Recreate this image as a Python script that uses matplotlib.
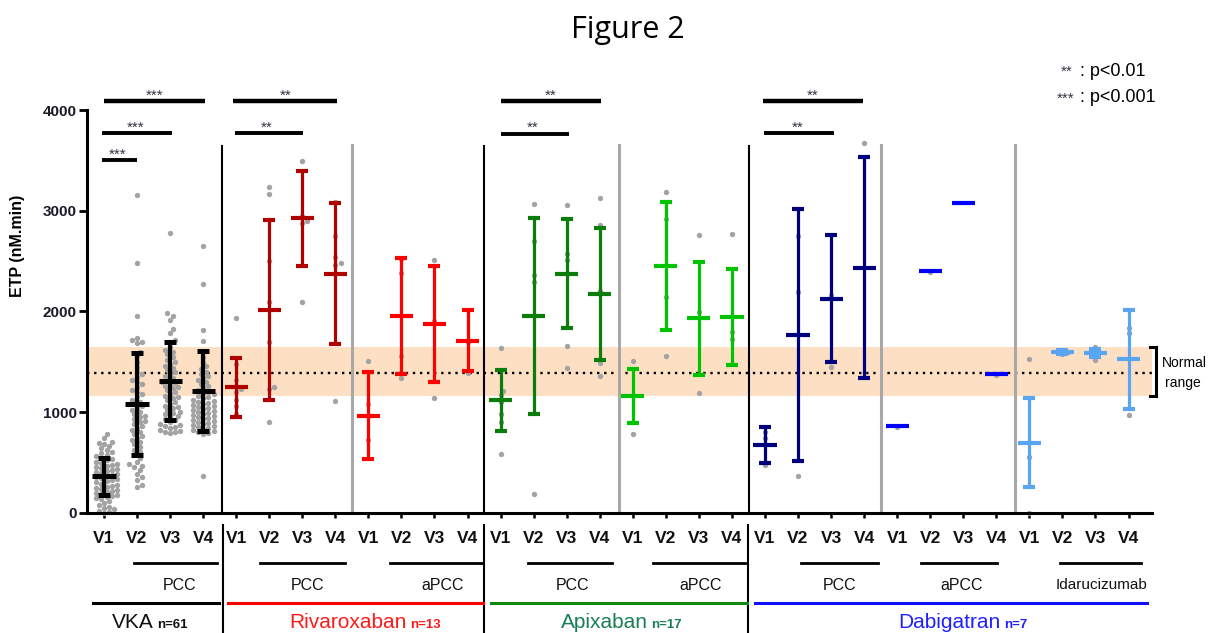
import numpy as np
import matplotlib
matplotlib.use('Agg')
import matplotlib.pyplot as plt
from matplotlib.lines import Line2D

# ---------------- data ----------------
visits = ['V1', 'V2', 'V3', 'V4']

vka_mean = [360, 1080, 1310, 1210]
vka_sd = [180, 510, 390, 395]
riva_pcc_mean = [1245, 2013, 2925, 2375]
riva_pcc_sd = [290, 895, 470, 700]
riva_apcc_mean = [965, 1950, 1875, 1710]
riva_apcc_sd = [430, 575, 575, 300]
apix_pcc_mean = [1115, 1955, 2375, 2175]
apix_pcc_sd = [305, 970, 545, 655]
apix_apcc_mean = [1160, 2450, 1930, 1945]
apix_apcc_sd = [270, 640, 560, 480]
dabi_pcc_mean = [675, 1765, 2125, 2435]
dabi_pcc_sd = [178, 1250, 630, 1095]
dabi_apcc_mean = [860, 2400, 3080, 1380]
dabi_apcc_sd = [0, 0, 0, 0]
ida_mean = [695, 1600, 1590, 1525]
ida_sd = [440, 20, 40, 490]

vka_pts = [
    [780, 740, 700, 690, 680, 660, 640, 620, 600, 590, 570, 560, 540, 530, 520, 500,
     490, 480, 470, 460, 450, 440, 430, 420, 410, 400, 390, 380, 370, 360, 350, 340,
     330, 320, 310, 300, 290, 280, 270, 260, 250, 240, 230, 220, 210, 200, 190, 180,
     170, 160, 150, 140, 120, 100, 80, 60, 50, 40, 20, 10, 0],
    [3160, 2480, 1950, 1740, 1720, 1700, 1690, 1600, 1560, 1500, 1450, 1400, 1380, 1350,
     1320, 1300, 1280, 1250, 1220, 1200, 1180, 1150, 1120, 1100, 1080, 1060, 1040, 1020,
     1000, 980, 960, 950, 930, 910, 900, 880, 860, 840, 820, 800, 780, 760, 740, 720,
     700, 680, 650, 620, 600, 570, 540, 500, 480, 460, 450, 420, 380, 350, 320, 280, 260],
    [2780, 1980, 1950, 1910, 1820, 1780, 1720, 1700, 1650, 1620, 1600, 1580, 1550, 1520,
     1500, 1480, 1460, 1440, 1420, 1400, 1380, 1360, 1340, 1320, 1300, 1290, 1280, 1260,
     1250, 1240, 1220, 1200, 1180, 1160, 1150, 1140, 1120, 1100, 1080, 1060, 1050, 1040,
     1020, 1000, 990, 980, 960, 950, 930, 920, 900, 880, 870, 860, 850, 840, 820, 810,
     800, 800, 790],
    [2650, 2270, 1810, 1710, 1600, 1550, 1500, 1460, 1430, 1400, 1380, 1360, 1340, 1320,
     1300, 1280, 1260, 1240, 1220, 1200, 1190, 1180, 1160, 1150, 1140, 1120, 1110, 1100,
     1090, 1080, 1070, 1060, 1050, 1040, 1030, 1020, 1010, 1000, 990, 980, 970, 960, 950,
     940, 930, 920, 910, 900, 890, 880, 870, 860, 850, 840, 830, 820, 810, 800, 790, 780, 360],
]
riva_pcc_pts = [[1930, 1480, 1320, 1260, 1230, 1200, 1120, 1060, 980],
                [3240, 3170, 2500, 2090, 1700, 1250, 1230, 900],
                [3490, 2950, 2900, 2880, 2090],
                [3090, 2750, 2540, 2480, 2460, 1110]]
riva_apcc_pts = [[1510, 1080, 960, 720],
                 [2520, 2380, 1560, 1340],
                 [2510, 1900, 1140],
                 [1700, 1390]]
apix_pcc_pts = [[1640, 1210, 1170, 1100, 980, 900, 580],
                [3070, 2700, 2360, 2290, 1950, 190],
                [3060, 2570, 2510, 1660, 1440],
                [3130, 2860, 2200, 1490, 1360]]
apix_apcc_pts = [[1510, 780],
                 [3190, 2920, 2140, 1560],
                 [2760, 1990, 1190],
                 [2770, 1790, 1730]]
dabi_pcc_pts = [[800, 745, 470],
                [2750, 2195, 360],
                [2160, 1450],
                [3670]]
dabi_apcc_pts = [[850], [2390], [], [1370]]
ida_pts = [[1530, 550, 0],
           [1600, 1580],
           [1650, 1580, 1520],
           [1830, 1780, 970]]

block_means = [vka_mean, riva_pcc_mean, riva_apcc_mean, apix_pcc_mean,
               apix_apcc_mean, dabi_pcc_mean, dabi_apcc_mean, ida_mean]
block_sds = [vka_sd, riva_pcc_sd, riva_apcc_sd, apix_pcc_sd,
             apix_apcc_sd, dabi_pcc_sd, dabi_apcc_sd, ida_sd]
block_pts = [vka_pts, riva_pcc_pts, riva_apcc_pts, apix_pcc_pts,
             apix_apcc_pts, dabi_pcc_pts, dabi_apcc_pts, ida_pts]
block_colors = ['#000000', '#b00000', '#ff0000', '#0a7d0a',
                '#00c400', '#00007e', '#0000ff', '#5aa5f2']

normal_low, normal_high, normal_mean = 1155, 1645, 1390

# significance: (x_from, x_to, y, label)
sig_bars = [(-0.05, 1.0, 3500, '***'), (-0.05, 2.05, 3770, '***'), (0.0, 3.06, 4090, '***'),
            (3.96, 6.01, 3770, '**'), (3.91, 7.06, 4090, '**'),
            (12.0, 14.06, 3765, '**'), (12.0, 15.03, 4090, '**'),
            (19.98, 22.1, 3770, '**'), (19.93, 22.97, 4090, '**')]

treatments = ['PCC', 'PCC', 'aPCC', 'PCC', 'aPCC', 'PCC', 'aPCC', 'Idarucizumab']
groups = ['VKA', 'Rivaroxaban', 'Apixaban', 'Dabigatran']
group_n = ['n=61', 'n=13', 'n=17', 'n=7']
group_colors = ['#111111', '#ff1a1a', '#1a7f55', '#2020ff']
group_line_colors = ['#000000', '#ff0000', '#118811', '#1010ff']

# ---------------- figure ----------------
W, H = 1223, 633
SANS = ['Liberation Sans', 'DejaVu Sans']
fig = plt.figure(figsize=(W / 100, H / 100), dpi=100)
ax = fig.add_axes([87 / W, (H - 512.7) / H, (1152 - 87) / W, 402.7 / H])
ax.set_xlim(-0.514, 31.71)
ax.set_ylim(0, 4000)

def fxy(px, py):
    return px / W, 1 - py / H

# normal band
ax.axhspan(normal_low, normal_high, color='#fde0c4', zorder=0, lw=0)
ax.axhline(normal_mean, color='black', lw=1.7, linestyle=(0, (1, 2)), zorder=1)

# separators
for xs in [3.57, 11.5, 19.51]:
    ax.plot([xs, xs], [0, 3640], color='black', lw=1.5, zorder=1, clip_on=False)
for xs in [7.51, 15.57, 23.5, 27.57]:
    ax.plot([xs, xs], [0, 3650], color='#a8a8a8', lw=2.2, zorder=1, clip_on=False)

# beeswarm layout
SX, SY = 33.05, 0.10067
def swarm(vals, xc, d=5.2):
    vals = np.asarray(vals, dtype=float)
    order = np.argsort(vals)
    placed = []
    xs = np.zeros(len(vals))
    for i in order:
        y = vals[i] * SY
        best = 0.0
        for k in range(0, 60):
            cands = [0.0] if k == 0 else [k * d / 2, -k * d / 2]
            found = False
            for off in cands:
                if all((off - p) ** 2 + (y - q) ** 2 >= (d * 0.85) ** 2 for p, q in placed):
                    best = off
                    found = True
                    break
            if found:
                break
        placed.append((best, y))
        xs[i] = xc + best / SX
    return xs

positions = np.arange(32)
for b in range(8):
    col = block_colors[b]
    lw_v = 3.0 if b == 0 else 2.3
    lw_m = 3.6 if b == 0 else 3.0
    for v in range(4):
        xc = positions[b * 4 + v]
        pts = block_pts[b][v]
        if len(pts):
            ax.scatter(swarm(pts, xc), pts, s=15, color='#a3a3a3', lw=0, zorder=2, clip_on=False)
        m = block_means[b][v]
        s = block_sds[b][v]
        if s > 0:
            ax.errorbar([xc], [m], yerr=[s], fmt='none', ecolor=col, elinewidth=lw_v,
                        capsize=4.6, capthick=lw_m, zorder=3)
        ax.plot([xc - 0.35, xc + 0.35], [m, m], color=col, lw=lw_m,
                solid_capstyle='butt', zorder=4)

# significance bars
for x0, x1, y, lab in sig_bars:
    lw = 3.2 if y > 4000 else 2.8
    ax.plot([x0, x1], [y, y], color='black', lw=lw, solid_capstyle='butt', clip_on=False, zorder=5)
    ax.text((x0 + x1) / 2 - (0.0 if y > 4000 else 0.05), y + 15, lab, ha='center', va='baseline',
            fontsize=11, color='#333344', family=SANS, zorder=6)

# axes styling
for sp in ['top', 'right']:
    ax.spines[sp].set_visible(False)
ax.spines['left'].set_linewidth(2.2)
ax.spines['bottom'].set_linewidth(2.2)
ax.set_yticks([0, 1000, 2000, 3000, 4000])
ax.set_yticklabels(['0', '1000', '2000', '3000', '4000'], fontsize=11, fontweight='bold',
                   family=SANS, color='#1a1a2a')
ax.tick_params(axis='y', length=6, width=2, pad=1.5)
ax.set_xticks(positions)
ax.set_xticklabels(visits * 8, fontsize=12.5, fontweight='bold', family=SANS, color='#111111')
ax.tick_params(axis='x', length=3.5, width=1.8, pad=10)
ax.set_ylabel('ETP (nM.min)', fontsize=11.5, fontweight='bold', family=SANS)
ax.yaxis.set_label_coords(-0.058, 0.662)

# title
fig.text(*fxy(628, 30), 'Figure 2', fontsize=22, family=['Open Sans', 'DejaVu Sans'],
         ha='center', va='center')

# legend of stars
fig.text(*fxy(1073, 72), '**', fontsize=11, ha='right', va='center', color='#333344', family=SANS)
fig.text(*fxy(1074, 99), '***', fontsize=11, ha='right', va='center', color='#333344', family=SANS)
fig.text(*fxy(1080, 71), ': p<0.01', fontsize=13, ha='left', va='center', family=SANS)
fig.text(*fxy(1080, 98), ': p<0.001', fontsize=13, ha='left', va='center', family=SANS)

# normal range bracket
bx = 1156
fig.add_artist(Line2D([bx / W, bx / W], [1 - 347 / H, 1 - 396 / H], color='black', lw=2.2,
                      transform=fig.transFigure))
for yy in [347, 396]:
    fig.add_artist(Line2D([1150 / W, bx / W], [1 - yy / H, 1 - yy / H], color='black', lw=2.2,
                          transform=fig.transFigure))
fig.text(*fxy(1162, 363), 'Normal', fontsize=10, ha='left', va='center', family=SANS)
fig.text(*fxy(1165, 383), 'range', fontsize=10, ha='left', va='center', family=SANS)

# separators below axis
for px in [222.5, 484, 748.5]:
    fig.add_artist(Line2D([px / W, px / W], [1 - 525 / H, 0], color='black', lw=1.5,
                          transform=fig.transFigure))

# treatment underlines and labels
treat_spans = [(134, 217), (260, 345), (390, 483), (528, 612), (653, 745), (801, 878), (921, 997), (1060, 1141)]
treat_cx = [180, 307.5, 442.7, 573, 700.5, 839.6, 961.5, 1101.8]
for (a, c), cx, lab in zip(treat_spans, treat_cx, treatments):
    fig.add_artist(Line2D([a / W, c / W], [1 - 563 / H] * 2, color='black', lw=2.0,
                          transform=fig.transFigure))
    fig.text(*fxy(cx, 585), lab, fontsize=11.5 if lab != 'Idarucizumab' else 11,
             ha='center', va='center', family=SANS, color='#111111')

# group lines and names
group_spans = [(92.5, 219), (228, 483), (491, 747), (755, 1147)]
name_end = [154, 407, 647.7, 1001]
for (a, c), ne, name, n, gc, lc in zip(group_spans, name_end, groups, group_n, group_colors, group_line_colors):
    fig.add_artist(Line2D([a / W, c / W], [1 - 603 / H] * 2, color=lc, lw=2.2,
                          transform=fig.transFigure))
    fig.text(*fxy(ne, 622), name, fontsize=15, ha='right', va='center', family=SANS, color=gc)
    fig.text(*fxy(ne + 3, 625), n, fontsize=9.5, ha='left', va='center', family=SANS,
             color=gc, fontweight='bold')

fig.savefig('out.png', dpi=100)
